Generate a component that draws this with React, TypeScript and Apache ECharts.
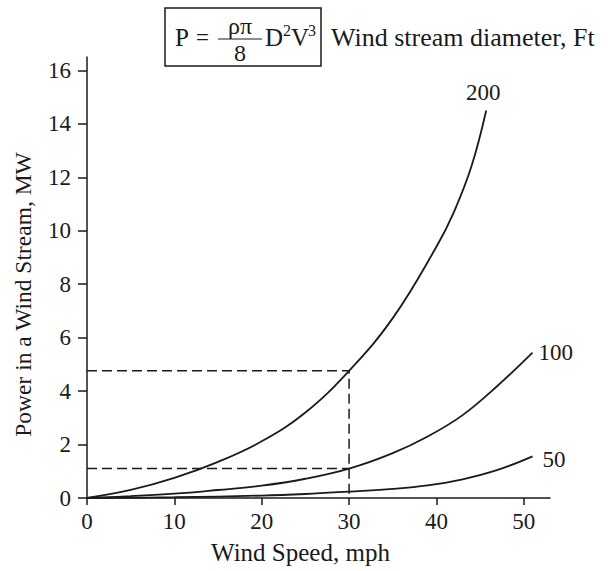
import React, { useEffect, useRef } from "react";
import * as echarts from "echarts";

const xTicks = [0, 10, 20, 30, 40, 50];
const yTicks = [0, 2, 4, 6, 8, 10, 12, 14, 16];

const speed200 = [0, 5, 10, 15, 20, 25, 30, 35, 40, 42, 44, 45.7];
const power200 = [0, 0.3, 0.75, 1.35, 2.12, 3.2, 4.76, 6.73, 9.4, 10.7, 12.4, 14.5];

const speed100 = [0, 5, 10, 15, 20, 25, 30, 35, 39, 43, 47, 51];
const power100 = [0, 0.07, 0.16, 0.3, 0.46, 0.72, 1.1, 1.68, 2.3, 3.1, 4.2, 5.44];

const speed50 = [0, 10, 20, 25, 30, 35, 39, 43, 47, 51];
const power50 = [0, 0.03, 0.09, 0.15, 0.24, 0.34, 0.47, 0.7, 1.05, 1.56];

const refSpeed = 30;
const refHigh = 4.76;
const refLow = 1.1;

const FONT = "Liberation Serif";
const INK = "#1a1a1a";

const zip = (xs: number[], ys: number[]) => xs.map((x, i) => [x, ys[i]]);

export default function App() {
  const ref = useRef<HTMLDivElement>(null);
  useEffect(() => {
    if (!ref.current) return;
    const chart = echarts.init(ref.current, null, { renderer: "svg" });
    const curveStyle = { color: INK, width: 1.8 };
    const labelStyle = { fontFamily: FONT, fontSize: 23, color: INK };
    chart.setOption({
      animation: false,
      backgroundColor: "#ffffff",
      textStyle: { fontFamily: FONT },
      grid: { left: 87, right: 61, top: 57, bottom: 73, containLabel: false },
      xAxis: {
        type: "value",
        min: 0,
        max: 53,
        interval: 10,
        name: "Wind Speed, mph",
        nameLocation: "middle",
        nameGap: 42,
        nameTextStyle: { fontFamily: FONT, fontSize: 25, color: INK, padding: [0, 36, 0, 0] },
        axisLine: { lineStyle: { color: INK, width: 1.5 } },
        axisTick: { inside: false, length: 7, lineStyle: { color: INK, width: 1.5 }, customValues: xTicks },
        axisLabel: { fontFamily: FONT, fontSize: 23, color: INK, margin: 12, customValues: xTicks },
        splitLine: { show: false },
      },
      yAxis: {
        type: "value",
        min: 0,
        max: 16.5,
        interval: 2,
        name: "Power in a Wind Stream, MW",
        nameLocation: "middle",
        nameGap: 52,
        nameTextStyle: { fontFamily: FONT, fontSize: 23.5, color: INK, padding: [0, 34, 0, 0] },
        axisLine: { lineStyle: { color: INK, width: 1.5 } },
        axisTick: { inside: false, length: 9, lineStyle: { color: INK, width: 1.5 }, customValues: yTicks },
        axisLabel: { fontFamily: FONT, fontSize: 23, color: INK, margin: 16, customValues: yTicks },
        splitLine: { show: false },
      },
      series: [
        {
          type: "line",
          data: [[0, refHigh], [refSpeed, refHigh], [refSpeed, 0]],
          showSymbol: false,
          lineStyle: { color: INK, width: 1.5, type: [10, 5] },
          silent: true,
        },
        {
          type: "line",
          data: [[0, refLow], [refSpeed, refLow]],
          showSymbol: false,
          lineStyle: { color: INK, width: 1.5, type: [10, 5] },
          silent: true,
        },
        {
          type: "line",
          data: zip(speed200, power200),
          showSymbol: false,
          smooth: 0.4,
          lineStyle: curveStyle,
          endLabel: { show: true, formatter: "200", ...labelStyle, distance: 0, align: "center", offset: [-3, -18] },
        },
        {
          type: "line",
          data: zip(speed100, power100),
          showSymbol: false,
          smooth: 0.4,
          lineStyle: curveStyle,
          endLabel: { show: true, formatter: "100", ...labelStyle, distance: 6 },
        },
        {
          type: "line",
          data: zip(speed50, power50),
          showSymbol: false,
          smooth: 0.4,
          lineStyle: curveStyle,
          endLabel: { show: true, formatter: "50", ...labelStyle, distance: 10, offset: [0, 3] },
        },
      ],
      graphic: [
        { type: "rect", shape: { x: 165, y: 8, width: 156, height: 58 }, style: { fill: "none", stroke: INK, lineWidth: 1.5 } },
        { type: "text", x: 175, y: 37, style: { text: "P", fontFamily: FONT, fontSize: 25, fill: INK, verticalAlign: "middle" } },
        { type: "text", x: 196, y: 37, style: { text: "=", fontFamily: FONT, fontSize: 23, fill: INK, verticalAlign: "middle" } },
        { type: "text", x: 240, y: 26, style: { text: "ρπ", fontFamily: FONT, fontSize: 24, fill: INK, align: "center", verticalAlign: "middle" } },
        { type: "line", shape: { x1: 218, y1: 39, x2: 262, y2: 39 }, style: { stroke: INK, lineWidth: 1.2 } },
        { type: "text", x: 240, y: 53, style: { text: "8", fontFamily: FONT, fontSize: 24, fill: INK, align: "center", verticalAlign: "middle" } },
        { type: "text", x: 265, y: 37, style: { text: "D", fontFamily: FONT, fontSize: 25, fill: INK, verticalAlign: "middle" } },
        { type: "text", x: 283, y: 30, style: { text: "2", fontFamily: FONT, fontSize: 16, fill: INK, verticalAlign: "middle" } },
        { type: "text", x: 291, y: 37, style: { text: "V", fontFamily: FONT, fontSize: 25, fill: INK, verticalAlign: "middle" } },
        { type: "text", x: 308, y: 30, style: { text: "3", fontFamily: FONT, fontSize: 16, fill: INK, verticalAlign: "middle" } },
        { type: "text", x: 331, y: 37, style: { text: "Wind stream diameter, Ft", fontFamily: FONT, fontSize: 26, fill: INK, verticalAlign: "middle" } },
      ],
    });
    return () => chart.dispose();
  }, []);
  return <div ref={ref} style={{ width: 611, height: 571, position: "absolute", left: 0, top: 0 }} />;
}
